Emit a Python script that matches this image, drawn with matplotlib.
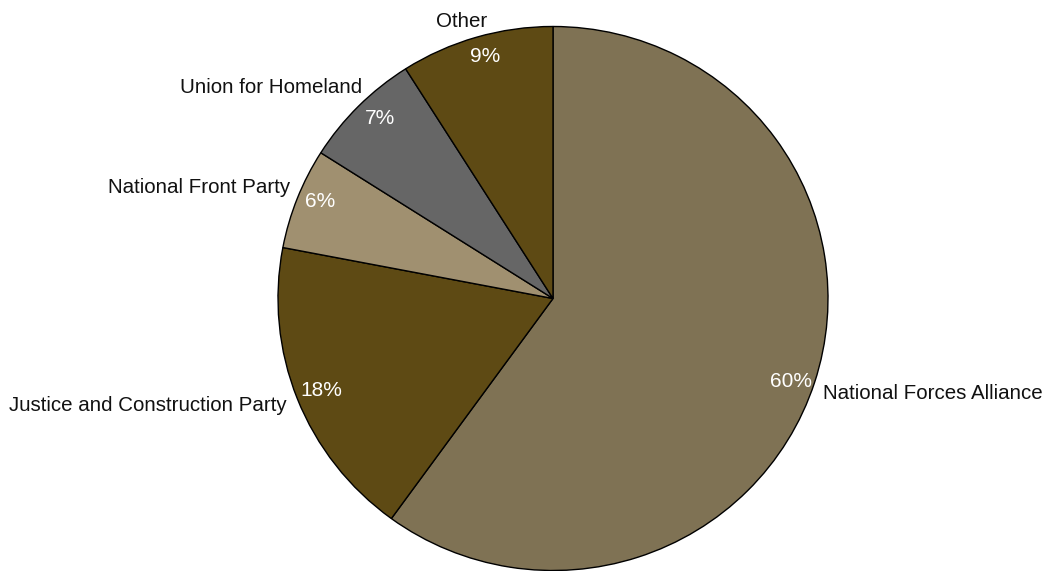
import matplotlib
matplotlib.use("Agg")
from matplotlib import pyplot as plt

parties = ["National Forces Alliance", "Justice and Construction Party",
           "National Front Party", "Union for Homeland", "Other"]
shares = [60, 18, 6, 7, 9]
colors = ["#7f7254", "#5e4a14", "#a09070", "#666666", "#5e4a14"]

# pixel anchors of the texts in the original picture (baseline)
label_px = [(823, 399, 'left'), (287, 411, 'right'), (290, 193, 'right'),
            (362, 93, 'right'), (487, 27, 'right')]
pct_px = [(791, 387), (321, 396), (320, 207), (380, 124), (485, 62)]

plt.rcParams['font.family'] = ['Liberation Sans', 'DejaVu Sans']

W, H = 1048, 571
cx, cy, rx, ry = 553, 298.5, 275, 272


def to_data(px, py):
    return (px - cx) / rx, (cy - py) / ry


fig = plt.figure(figsize=(W / 100, H / 100), dpi=100)
ax = fig.add_axes([0, 0, 1, 1])
wedges, texts, autotexts = ax.pie(
    shares, labels=parties, colors=colors, startangle=90, counterclock=False,
    autopct='%d%%', pctdistance=0.91, labeldistance=1.04,
    wedgeprops=dict(edgecolor='black', linewidth=1),
    textprops=dict(fontsize=14.8, color='#111111'))

for t, (px, py, ha) in zip(texts, label_px):
    t.set_position(to_data(px, py))
    t.set_ha(ha)
    t.set_va('baseline')
for t, (px, py) in zip(autotexts, pct_px):
    t.set_position(to_data(px, py))
    t.set_ha('center')
    t.set_va('baseline')
    t.set_color('white')
    t.set_fontsize(15)

ax.set_aspect('auto')
ax.set_xlim(-cx / rx, (W - cx) / rx)
ax.set_ylim(-(H - cy) / ry, cy / ry)
ax.axis('off')

fig.savefig("out.png", dpi=100)
